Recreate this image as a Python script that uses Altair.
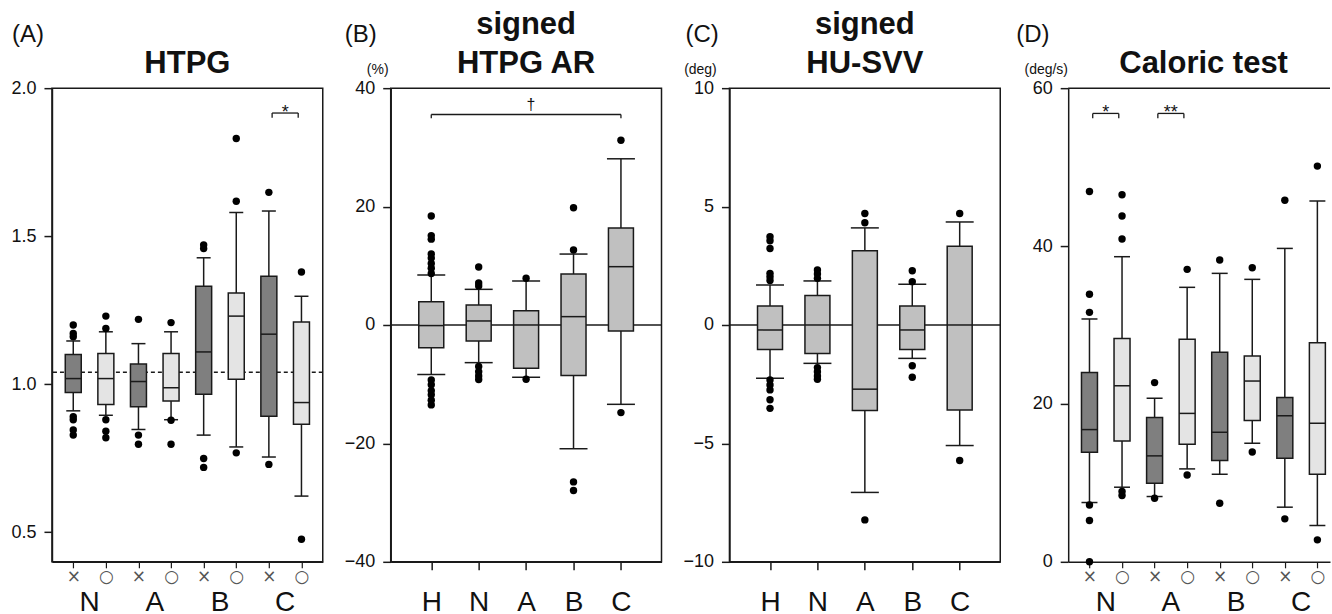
import json
import altair as alt
import pandas as pd

FONT = "Liberation Sans"
STROKE = "#1a1a1a"
DARK = "#7f7f7f"
LIGHT = "#e4e4e4"
MID = "#c0c0c0"

# ---------------- Panel A: HTPG ----------------
A_pos = [0, 1, 2, 3, 4, 5, 6, 7]
A_ticklabels = ["×", "○", "×", "○", "×", "○", "×", "○"]
A_groups = ["N", "A", "B", "C"]
A_group_pos = [0.5, 2.5, 4.5, 6.5]
A_fill = [DARK, LIGHT, DARK, LIGHT, DARK, LIGHT, DARK, LIGHT]
A_q3 = [1.100, 1.104, 1.068, 1.104, 1.331, 1.308, 1.365, 1.210]
A_med = [1.019, 1.019, 1.009, 0.988, 1.109, 1.230, 1.169, 0.938]
A_q1 = [0.972, 0.931, 0.924, 0.943, 0.966, 1.017, 0.892, 0.865]
A_hi = [1.146, 1.177, 1.137, 1.177, 1.427, 1.580, 1.585, 1.297]
A_lo = [0.910, 0.895, 0.847, 0.880, 0.828, 0.788, 0.754, 0.622]
A_out_pos = [0, 0, 0, 0, 0, 0, 0,
             1, 1, 1, 1, 1,
             2, 2, 2,
             3, 3, 3,
             4, 4, 4, 4,
             5, 5, 5,
             6, 6,
             7, 7]
A_out_val = [1.200, 1.171, 1.160, 0.890, 0.880, 0.845, 0.828,
             1.230, 1.188, 0.880, 0.841, 0.819,
             1.219, 0.828, 0.797,
             1.208, 0.878, 0.797,
             1.470, 1.458, 0.749, 0.719,
             1.830, 1.618, 0.768,
             1.648, 0.729,
             1.379, 0.476]
A_ref = 1.04
A_ydomain = [0.4, 2.0]
A_yticks = [0.5, 1.0, 1.5, 2.0]
A_sig_x1 = [6.1]
A_sig_x2 = [6.9]
A_sig_top = [1.916]
A_sig_bot = [1.900]
A_sig_text = ["*"]
A_sig_text_x = [6.5]
A_sig_text_y = [1.900]

# ---------------- Panel B: signed HTPG AR ----------------
B_pos = [0, 1, 2, 3, 4]
B_ticklabels = ["H", "N", "A", "B", "C"]
B_q3 = [3.94, 3.38, 2.42, 8.60, 16.40]
B_med = [-0.10, 0.68, 0.00, 1.41, 9.85]
B_q1 = [-3.83, -2.70, -7.32, -8.55, -1.01]
B_hi = [8.44, 6.02, 7.43, 11.98, 28.07]
B_lo = [-8.38, -6.36, -8.83, -20.90, -13.40]
B_out_pos = [0] * 14 + [1] * 7 + [2] * 2 + [3] * 4 + [4] * 2
B_out_val = [18.4, 15.1, 14.5, 12.0, 11.3, 10.4, 9.6, 8.7,
             -9.3, -10.1, -11.1, -11.8, -12.7, -13.5,
             9.8, 7.1, 6.6, -7.0, -7.9, -8.6, -9.2,
             7.9, -9.17,
             19.8, 12.66, -26.5, -27.96,
             31.2, -14.8]
B_ydomain = [-40, 40]
B_yticks = [-40, -20, 0, 20, 40]
B_sig_x1 = [0]
B_sig_x2 = [4]
B_sig_top = [35.55]
B_sig_bot = [34.9]
B_sig_text = ["†"]
B_sig_text_x = [2.1]
B_sig_text_y = [36.3]

# ---------------- Panel C: signed HU-SVV ----------------
C_pos = [0, 1, 2, 3, 4]
C_ticklabels = ["H", "N", "A", "B", "C"]
C_q3 = [0.80, 1.25, 3.14, 0.80, 3.33]
C_med = [-0.21, 0.00, -2.71, -0.21, 0.00]
C_q1 = [-1.03, -1.20, -3.61, -1.03, -3.59]
C_hi = [1.69, 1.86, 4.10, 1.72, 4.35]
C_lo = [-2.25, -1.62, -7.07, -1.41, -5.09]
C_out_pos = [0] * 11 + [1] * 7 + [2] * 3 + [3] * 4 + [4] * 2
C_out_val = [3.73, 3.56, 3.23, 2.18, 2.04, 1.88,
             -2.32, -2.53, -2.74, -3.16, -3.52,
             2.32, 2.15, 1.97, -1.80, -1.97, -2.15, -2.29,
             4.71, 4.32, -8.23,
             2.29, 1.83, -1.72, -2.21,
             4.71, -5.72]
C_ydomain = [-10, 10]
C_yticks = [-10, -5, 0, 5, 10]

# ---------------- Panel D: Caloric test ----------------
D_pos = [0, 1, 2, 3, 4, 5, 6, 7]
D_ticklabels = ["×", "○", "×", "○", "×", "○", "×", "○"]
D_groups = ["N", "A", "B", "C"]
D_group_pos = [0.5, 2.5, 4.5, 6.5]
D_fill = [DARK, LIGHT, DARK, LIGHT, DARK, LIGHT, DARK, LIGHT]
D_q3 = [23.97, 28.30, 18.27, 28.19, 26.54, 26.08, 20.80, 27.76]
D_med = [16.75, 22.30, 13.42, 18.80, 16.41, 22.90, 18.50, 17.55]
D_q1 = [13.88, 15.30, 9.96, 14.90, 12.83, 17.89, 13.12, 11.09]
D_hi = [30.76, 38.65, 20.72, 34.77, 36.54, 35.78, 39.70, 45.70]
D_lo = [7.51, 9.45, 8.27, 11.77, 11.09, 15.02, 6.92, 4.60]
D_out_pos = [0] * 6 + [1] * 5 + [2] * 2 + [3] * 2 + [4] * 2 + [5] * 2 + [6] * 2 + [7] * 2
D_out_val = [46.9, 33.9, 31.6, 7.2, 5.23, 0.0,
             46.5, 43.8, 40.9, 8.9, 8.4,
             22.7, 8.06,
             37.05, 11.0,
             38.23, 7.42,
             37.25, 13.92,
             45.8, 5.44,
             50.13, 2.78]
D_ydomain = [0, 60]
D_yticks = [0, 20, 40, 60]
D_sig_x1 = [0.1, 2.1]
D_sig_x2 = [0.9, 2.9]
D_sig_top = [56.8, 56.8]
D_sig_bot = [56.2, 56.2]
D_sig_text = ["*", "**"]
D_sig_text_x = [0.5, 2.5]
D_sig_text_y = [56.2, 56.2]

H = 474
W = 271
W_D = 262


def make_panel(width, xdomain, ydomain, yticks, yfmt, pos, ticklabels, q1, med, q3, lo, hi,
               fills, box_w, cap_w, out_pos, out_val, paired, title_lines, letter, letter_x,
               unit, unit_x, view_stroke, groups=None, group_pos=None, sig=None,
               ref=None, ref_dash=None):
    xs = alt.Scale(domain=xdomain, nice=False, zero=False)
    ys = alt.Scale(domain=ydomain, nice=False, zero=False)
    df = pd.DataFrame(dict(pos=pos, q1=q1, med=med, q3=q3, lo=lo, hi=hi, fill=fills))
    base = alt.Chart(df)

    lab_expr = json.dumps(ticklabels) + "[round(datum.value)]"
    if paired:
        xaxis = alt.Axis(values=pos, labelExpr=lab_expr, tickSize=6, labelFontSize=17,
                         labelPadding=1, title=None, grid=False, domain=True,
                         labelOverlap=False, labelFlush=False, tickCount=len(pos),
                         domainColor=STROKE, tickColor=STROKE, labelColor="#555",
                         domainWidth=1.5, tickWidth=1.2, labelFont="DejaVu Sans")
    else:
        xaxis = alt.Axis(values=pos, labelExpr=lab_expr, tickSize=8, labelFontSize=28,
                         labelPadding=19, title=None, grid=False, domain=True,
                         labelOverlap=False, labelFlush=False, tickCount=len(pos),
                         domainColor=STROKE, tickColor=STROKE, labelColor="#111",
                         domainWidth=1.5, tickWidth=1.5)
    yaxis = alt.Axis(values=yticks, format=yfmt, tickSize=8, labelFontSize=18,
                     labelPadding=8, title=None, grid=False, domainColor=STROKE,
                     labelOverlap=False, labelFlush=False,
                     tickColor=STROKE, labelColor="#111", domainWidth=1.5, tickWidth=1.5)

    def XQ(f):
        return alt.X(f"{f}:Q", scale=xs, axis=xaxis, title=None)

    def YQ(f):
        return alt.Y(f"{f}:Q", scale=ys, axis=yaxis, title=None)

    layers = []
    # whiskers
    layers.append(base.mark_rule(color=STROKE, strokeWidth=1.5).encode(
        x=XQ("pos"), y=YQ("lo"), y2="hi:Q"))
    if ref is not None:
        rdf = pd.DataFrame({"ref": [ref]})
        mk = dict(color=STROKE, strokeWidth=1.5)
        if ref_dash:
            mk["strokeDash"] = ref_dash
        layers.append(alt.Chart(rdf).mark_rule(**mk).encode(y=YQ("ref")))
    for col in ["lo", "hi"]:
        layers.append(base.mark_tick(orient="horizontal", size=cap_w, thickness=1.5,
                                     color=STROKE, opacity=1).encode(x=XQ("pos"), y=YQ(col)))
    layers.append(base.mark_bar(size=box_w, stroke=STROKE, strokeWidth=1.5).encode(
        x=XQ("pos"), y=YQ("q1"), y2="q3:Q",
        fill=alt.Fill("fill:N", scale=None)))
    layers.append(base.mark_tick(orient="horizontal", size=box_w, thickness=1.5,
                                 color=STROKE, opacity=1).encode(x=XQ("pos"), y=YQ("med")))
    odf = pd.DataFrame(dict(pos=out_pos, val=out_val))
    layers.append(alt.Chart(odf).mark_circle(size=55, color="black", opacity=1).encode(
        x=XQ("pos"), y=YQ("val")))

    if sig is not None:
        sx1, sx2, stop, sbot, stext, stx, sty, sfs = sig
        sdf = pd.DataFrame(dict(x1=sx1, x2=sx2, top=stop, bot=sbot))
        layers.append(alt.Chart(sdf).mark_rule(color=STROKE, strokeWidth=1.3).encode(
            x=XQ("x1"), x2="x2:Q", y=YQ("top")))
        layers.append(alt.Chart(sdf).mark_rule(color=STROKE, strokeWidth=1.3).encode(
            x=XQ("x1"), y=YQ("top"), y2="bot:Q"))
        layers.append(alt.Chart(sdf).mark_rule(color=STROKE, strokeWidth=1.3).encode(
            x=XQ("x2"), y=YQ("top"), y2="bot:Q"))
        tdf = pd.DataFrame(dict(x=stx, y=sty, t=stext))
        layers.append(alt.Chart(tdf).mark_text(fontSize=sfs, color="#111", baseline="alphabetic").encode(
            x=XQ("x"), y=YQ("y"), text="t:N"))

    one = pd.DataFrame({"k": [0]})
    if groups is not None:
        gdf = pd.DataFrame(dict(pos=group_pos, g=groups))
        layers.append(alt.Chart(gdf).mark_text(fontSize=28, color="#111", baseline="alphabetic").encode(
            x=XQ("pos"), y=alt.value(H + 49), text="g:N"))
    # titles
    if len(title_lines) == 1:
        ys_t = [-15]
    else:
        ys_t = [-54, -15]
    for tl, yy in zip(title_lines, ys_t):
        layers.append(alt.Chart(one).mark_text(fontSize=31, fontWeight="bold", color="#111",
                                               baseline="alphabetic", align="center").encode(
            x=alt.value(135.5), y=alt.value(yy), text=alt.value(tl)))
    layers.append(alt.Chart(one).mark_text(fontSize=24, color="#111", baseline="alphabetic",
                                           align="left").encode(
        x=alt.value(letter_x), y=alt.value(-46), text=alt.value(letter)))
    if unit:
        layers.append(alt.Chart(one).mark_text(fontSize=14, color="#111", baseline="alphabetic",
                                               align="center").encode(
            x=alt.value(unit_x), y=alt.value(-14), text=alt.value(unit)))
    if view_stroke == "none":
        layers.append(alt.Chart(one).mark_rule(color=STROKE, strokeWidth=1.5).encode(
            x=alt.value(0), x2=alt.value(width), y=alt.value(0)))
        view = alt.ViewBackground(stroke="transparent")
    else:
        view = alt.ViewBackground(stroke=STROKE, strokeWidth=1.5)
    return alt.layer(*layers).properties(width=width, height=H, view=view)


step = W / 8.0
pA = make_panel(W, [-0.5, 7.5], A_ydomain, A_yticks, ".1f", A_pos, A_ticklabels,
                A_q1, A_med, A_q3, A_lo, A_hi, A_fill, 16, 14, A_out_pos, A_out_val,
                True, ["HTPG"], "(A)", -40, None, 0, "box",
                groups=A_groups, group_pos=A_group_pos,
                sig=(A_sig_x1, A_sig_x2, A_sig_top, A_sig_bot, A_sig_text, A_sig_text_x,
                     A_sig_text_y, 18),
                ref=A_ref, ref_dash=[4, 3])
pB = make_panel(W, [-0.75, 4.75], B_ydomain, B_yticks, "d", B_pos, B_ticklabels,
                B_q1, B_med, B_q3, B_lo, B_hi, [MID] * 5, 25, 28, B_out_pos, B_out_val,
                False, ["signed", "HTPG AR"], "(B)", -46, "(%)", -13, "box",
                sig=(B_sig_x1, B_sig_x2, B_sig_top, B_sig_bot, B_sig_text, B_sig_text_x,
                     B_sig_text_y, 16),
                ref=0)
pC = make_panel(W, [-0.75, 4.75], C_ydomain, C_yticks, "d", C_pos, C_ticklabels,
                C_q1, C_med, C_q3, C_lo, C_hi, [MID] * 5, 25, 28, C_out_pos, C_out_val,
                False, ["signed", "HU-SVV"], "(C)", -44, "(deg)", -29, "box",
                ref=0)
pD = make_panel(W_D, [-0.5, -0.5 + W_D / step], D_ydomain, D_yticks, "d", D_pos, D_ticklabels,
                D_q1, D_med, D_q3, D_lo, D_hi, D_fill, 16, 16, D_out_pos, D_out_val,
                True, ["Caloric test"], "(D)", -52, "(deg/s)", -22, "none",
                groups=D_groups, group_pos=D_group_pos,
                sig=(D_sig_x1, D_sig_x2, D_sig_top, D_sig_bot, D_sig_text, D_sig_text_x,
                     D_sig_text_y, 18))

chart = alt.hconcat(pA, pB, pC, pD, spacing=68, bounds="flush").properties(
    padding={"left": 10, "top": 8, "right": 0, "bottom": 0},
    background="white",
).configure(font=FONT).configure_text(font=FONT)

chart.save("out.html", embed_options={"renderer": "svg", "actions": False})
